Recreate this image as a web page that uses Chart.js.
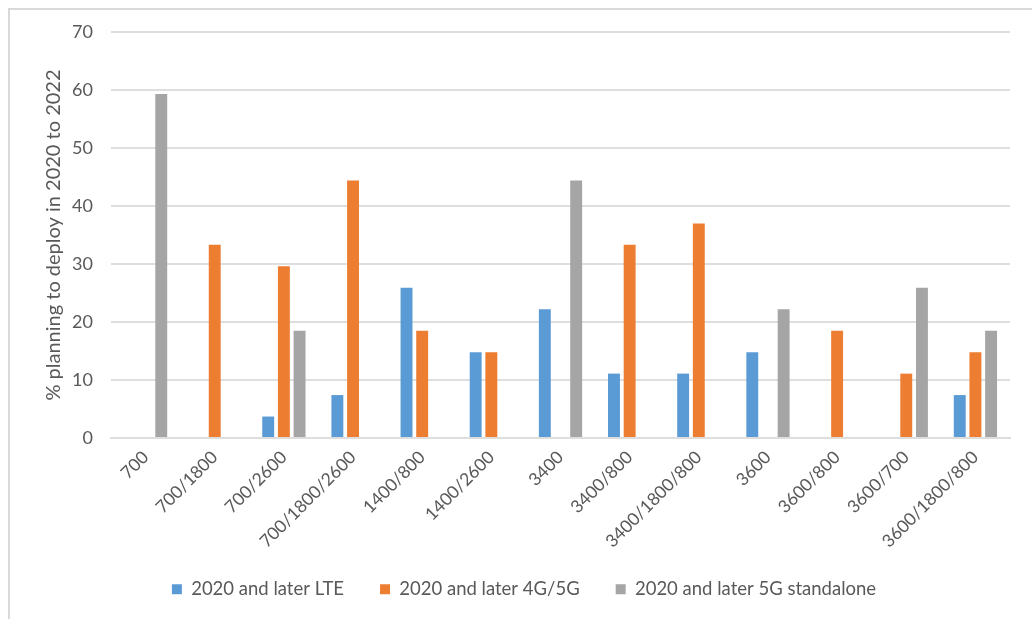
<!DOCTYPE html>
<html>
<head>
<meta charset="utf-8">
<script src="https://cdn.jsdelivr.net/npm/chart.js@4"></script>
<style>
  html, body { margin: 0; padding: 0; background: #ffffff; }
  #frame {
    position: absolute; left: 8px; top: 8px;
    width: 1022px; height: 609px;
    border-left: 2px solid #d9d9d9; border-top: 2px solid #d9d9d9;
  }
  canvas { display: block; }
</style>
</head>
<body>
<div id="frame"><canvas id="c" width="1022" height="609"></canvas></div>
<script>
// Spectrum band combinations
const categories = ['700', '700/1800', '700/2600', '700/1800/2600', '1400/800', '1400/2600',
  '3400', '3400/800', '3400/1800/800', '3600', '3600/800', '3600/700', '3600/1800/800'];

// Share of operators (%) planning each deployment
const lteValues = [0, 0, 3.7, 7.4, 25.9, 14.8, 22.2, 11.1, 11.1, 14.8, 0, 0, 7.4];
const nsaValues = [0, 33.3, 29.6, 44.4, 18.5, 14.8, 0, 33.3, 37.0, 0, 18.5, 11.1, 14.8];
const saValues  = [59.3, 0, 18.5, 0, 0, 0, 44.4, 0, 0, 22.2, 0, 25.9, 18.5];

const seriesNames = ['2020 and later LTE', '2020 and later 4G/5G', '2020 and later 5G standalone'];
const yTicks = [0, 10, 20, 30, 40, 50, 60, 70];

const textColor = '#595959';
const gridColor = '#dedede';
const fontFamily = 'Lato, "Liberation Sans", sans-serif';

const PLOT_BOTTOM = 428;
const LEGEND_ROW_Y = 581;

// Keeps the legend row at a fixed height below the plot
const legendPlace = {
  id: 'legendPlace',
  afterLayout(chart) {
    const lg = chart.legend;
    if (!lg) return;
    const pad = lg.options.labels.padding;
    const itemH = 22.2;
    const h = lg.bottom - lg.top;
    lg.top = LEGEND_ROW_Y - pad - itemH / 2;
    lg.bottom = lg.top + h;
  }
};

new Chart(document.getElementById('c'), {
  type: 'bar',
  data: {
    labels: categories,
    datasets: [
      { label: seriesNames[0], data: lteValues, backgroundColor: '#5b9bd5' },
      { label: seriesNames[1], data: nsaValues, backgroundColor: '#ed7d31' },
      { label: seriesNames[2], data: saValues,  backgroundColor: '#a5a5a5' }
    ]
  },
  options: {
    responsive: false,
    animation: false,
    devicePixelRatio: 1,
    layout: { padding: { left: 28, right: 22, top: 22, bottom: 0 } },
    datasets: { bar: { categoryPercentage: 0.68, barPercentage: 0.76, borderWidth: 0 } },
    plugins: {
      tooltip: { enabled: false },
      legend: {
        position: 'bottom',
        labels: {
          color: textColor,
          font: { family: fontFamily, size: 18.5 },
          boxWidth: 10,
          boxHeight: 10,
          padding: 36
        }
      }
    },
    scales: {
      x: {
        grid: { display: false, drawTicks: false },
        border: { display: true, color: gridColor, width: 2 },
        ticks: {
          color: textColor, font: { family: fontFamily, size: 17.5 },
          minRotation: 45, maxRotation: 45, padding: 9, autoSkip: false
        },
        afterFit(s) {
          const lh = s.chart.legend ? s.chart.legend.height : 0;
          s.height = Math.max(10, 609 - lh - PLOT_BOTTOM);
        }
      },
      y: {
        min: 0, max: 70,
        grid: { color: gridColor, lineWidth: 2, drawTicks: false },
        border: { display: false },
        afterBuildTicks(s) { s.ticks = yTicks.map(v => ({ value: v })); },
        ticks: { color: textColor, font: { family: fontFamily, size: 18 }, padding: 18 },
        title: {
          display: true,
          text: '% planning to deploy in 2020 to 2022',
          color: textColor,
          font: { family: fontFamily, size: 20 },
          padding: 4
        },
        afterFit(s) {
          s.width = 73;
          s.paddingTop = 0;
          s.paddingBottom = 0;
        }
      }
    }
  },
  plugins: [legendPlace]
});
</script>
</body>
</html>
